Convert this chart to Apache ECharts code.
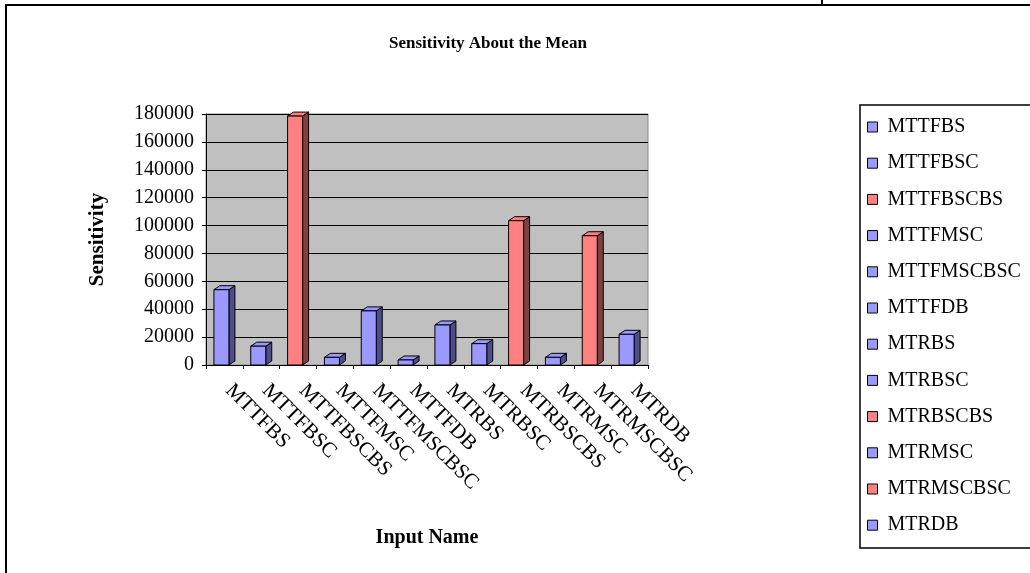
<!DOCTYPE html>
<html>
<head>
<meta charset="utf-8">
<script src="https://cdn.jsdelivr.net/npm/echarts@6/dist/echarts.min.js"></script>
<style>
  html, body { margin: 0; padding: 0; background: #fff; }
  #chart { width: 1030px; height: 573px; }
</style>
</head>
<body>
<div id="chart"></div>
<script>
// input names (categories) and their sensitivity about the mean
const inputNames = ['MTTFBS', 'MTTFBSC', 'MTTFBSCBS', 'MTTFMSC', 'MTTFMSCBSC', 'MTTFDB',
                    'MTRBS', 'MTRBSC', 'MTRBSCBS', 'MTRMSC', 'MTRMSCBSC', 'MTRDB'];
const sensitivity = [54000, 13500, 178500, 5500, 38800, 3600,
                     28700, 15300, 103500, 5500, 92700, 22000];
// which bars are drawn red
const highlighted = ['MTTFBSCBS', 'MTRBSCBS', 'MTRMSCBSC'];
const yTicks = [0, 20000, 40000, 60000, 80000, 100000, 120000, 140000, 160000, 180000];

const serif = '"Liberation Serif", "Times New Roman", serif';
const blue = { front: '#9999FF', side: '#4D4D88', top: '#9999FF' };
const red = { front: '#FF8080', side: '#804040', top: '#FF8080' };

function render3dBar(params, api) {
    const idx = api.value(0);
    const base = api.coord([idx, 0]);
    const top = api.coord([idx, api.value(1)]);
    const pal = api.value(2) ? red : blue;
    const w = 15, dx = 6, dy = -4;
    const x0 = base[0] - 3 - w / 2, x1 = x0 + w;
    const yt = top[1], yb = base[1];
    const stroke = { stroke: '#000', lineWidth: 1 };
    return {
        type: 'group',
        children: [
            { type: 'polygon', shape: { points: [[x1, yt], [x1 + dx, yt + dy], [x1 + dx, yb + dy], [x1, yb]] },
              style: Object.assign({ fill: pal.side }, stroke) },
            { type: 'polygon', shape: { points: [[x0, yt], [x1, yt], [x1 + dx, yt + dy], [x0 + dx, yt + dy]] },
              style: Object.assign({ fill: pal.top }, stroke) },
            { type: 'rect', shape: { x: x0, y: yt, width: w, height: yb - yt },
              style: Object.assign({ fill: pal.front }, stroke) }
        ]
    };
}

const chart = echarts.init(document.getElementById('chart'));
const series = inputNames.map((name, i) => {
    const isRed = highlighted.includes(name);
    return {
        name: name,
        type: 'custom',
        renderItem: render3dBar,
        encode: { x: 0, y: 1 },
        itemStyle: { color: isRed ? red.front : blue.front },
        data: [[i, sensitivity[i], isRed ? 1 : 0]]
    };
});

chart.setOption({
    animation: false,
    backgroundColor: '#fff',
    title: {
        text: 'Sensitivity About the Mean',
        left: 384,
        top: 30,
        textStyle: { fontFamily: serif, fontSize: 17, fontWeight: 'bold', color: '#000' }
    },
    legend: {
        orient: 'vertical',
        left: 862,
        top: 112,
        itemWidth: 10,
        itemHeight: 10,
        itemGap: 16.2,
        icon: 'rect',
        itemStyle: { borderColor: '#000', borderWidth: 1 },
        textStyle: { fontFamily: serif, fontSize: 20, color: '#000', lineHeight: 20, padding: [0, 0, 0, 5] },
        data: inputNames
    },
    grid: {
        left: 206,
        right: 382,
        top: 114,
        bottom: 208,
        show: true,
        backgroundColor: '#C0C0C0',
        borderColor: '#888',
        borderWidth: 1
    },
    xAxis: {
        type: 'category',
        data: inputNames,
        name: 'Input Name',
        nameLocation: 'middle',
        nameGap: 163,
        nameTextStyle: { fontFamily: serif, fontSize: 20, fontWeight: 'bold', color: '#000' },
        axisLine: { lineStyle: { color: '#000', width: 1 } },
        axisTick: { show: true, alignWithLabel: false, length: 4, lineStyle: { color: '#000' } },
        axisLabel: { rotate: -45, interval: 0, fontFamily: serif, fontSize: 21, color: '#000', margin: 18, padding: [0, 0, 0, 6] }
    },
    yAxis: {
        type: 'value',
        min: yTicks[0],
        max: yTicks[yTicks.length - 1],
        interval: yTicks[1] - yTicks[0],
        name: 'Sensitivity',
        nameLocation: 'middle',
        nameGap: 98,
        nameTextStyle: { fontFamily: serif, fontSize: 21, fontWeight: 'bold', color: '#000' },
        axisLine: { show: true, lineStyle: { color: '#000', width: 1 } },
        axisTick: { show: true, length: 4, lineStyle: { color: '#000' } },
        axisLabel: { fontFamily: serif, fontSize: 20, color: '#000', margin: 12, formatter: v => String(v) },
        splitLine: { show: true, lineStyle: { color: '#000', width: 1 } }
    },
    graphic: [
        { type: 'rect', shape: { x: 6, y: 5, width: 1100, height: 700 },
          style: { fill: 'none', stroke: '#000', lineWidth: 2 }, silent: true },
        { type: 'line', shape: { x1: 822, y1: 0, x2: 822, y2: 5 },
          style: { stroke: '#000', lineWidth: 2 }, silent: true },
        { type: 'rect', shape: { x: 860, y: 105, width: 200, height: 443 },
          style: { fill: 'none', stroke: '#000', lineWidth: 1.5 }, silent: true }
    ],
    series: series
});
</script>
</body>
</html>
